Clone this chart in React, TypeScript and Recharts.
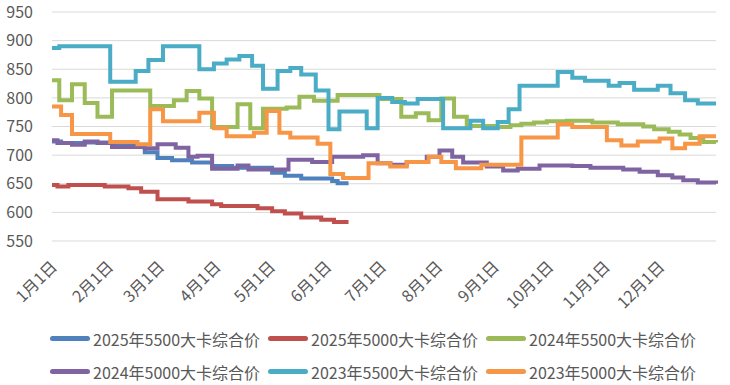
import { LineChart, Line, XAxis, YAxis, CartesianGrid, Legend } from 'recharts';

// day-of-year positions of the month ticks
const MONTH_DAYS = [0, 31, 59, 90, 120, 151, 181, 212, 243, 273, 304, 334];
const MONTH_LABELS = ['1月1日', '2月1日', '3月1日', '4月1日', '5月1日', '6月1日', '7月1日', '8月1日', '9月1日', '10月1日', '11月1日', '12月1日'];
const Y_TICKS = [550, 600, 650, 700, 750, 800, 850, 900, 950];

// price change points: day of year -> price (held until the next change)
const days2025_5500 = [0, 5, 18, 33, 51, 58, 66, 77, 88, 99, 121, 128, 137, 154, 157, 163];
const vals2025_5500 = [724, 721, 722, 717, 705, 695, 691, 687, 681, 678, 669, 664, 659, 655, 651, 651];

const days2025_5000 = [0, 3, 9, 29, 42, 49, 58, 75, 88, 93, 113, 121, 128, 137, 148, 155, 163];
const vals2025_5000 = [648, 645, 648, 645, 642, 636, 623, 619, 614, 611, 607, 602, 598, 591, 587, 583, 583];

const days2024_5500 = [0, 4, 11, 18, 25, 33, 54, 67, 74, 81, 88, 102, 109, 116, 129, 136, 144, 157, 180, 192, 200, 207, 214, 221, 228, 244, 252, 258, 265, 272, 283, 297, 311, 325, 331, 339, 345, 351, 358, 365];
const vals2024_5500 = [831, 796, 824, 791, 767, 813, 786, 796, 812, 799, 749, 789, 747, 781, 783, 802, 795, 805, 798, 767, 773, 761, 799, 767, 751, 749, 752, 755, 757, 759, 760, 757, 754, 750, 745, 741, 736, 730, 723, 722];

const days2024_5000 = [0, 3, 11, 18, 25, 33, 51, 58, 68, 75, 80, 88, 102, 108, 130, 143, 154, 171, 179, 186, 195, 206, 213, 220, 226, 239, 248, 256, 268, 286, 296, 314, 323, 333, 341, 347, 355, 365];
const vals2024_5000 = [726, 721, 718, 724, 721, 714, 712, 719, 713, 697, 699, 676, 682, 675, 692, 688, 697, 700, 686, 683, 688, 697, 708, 697, 687, 680, 673, 676, 682, 681, 678, 675, 671, 665, 661, 656, 652, 650];

const days2023_5500 = [0, 4, 32, 46, 53, 61, 81, 89, 96, 103, 110, 116, 124, 131, 137, 145, 152, 158, 173, 179, 187, 194, 201, 215, 230, 237, 245, 251, 257, 278, 286, 293, 306, 312, 320, 333, 340, 348, 355, 365];
const vals2023_5500 = [887, 890, 828, 847, 866, 890, 850, 860, 867, 873, 856, 816, 847, 852, 841, 813, 745, 776, 747, 800, 793, 790, 798, 747, 760, 747, 758, 780, 821, 845, 835, 830, 821, 826, 814, 821, 808, 796, 790, 790];

const days2023_5000 = [0, 5, 11, 32, 47, 54, 61, 81, 89, 96, 111, 118, 125, 131, 146, 153, 160, 174, 186, 195, 207, 214, 222, 236, 258, 278, 286, 305, 313, 322, 334, 341, 348, 356, 365];
const vals2023_5000 = [785, 770, 737, 723, 719, 780, 759, 774, 747, 733, 739, 777, 739, 731, 720, 667, 660, 686, 680, 688, 697, 688, 677, 683, 731, 754, 749, 726, 717, 724, 729, 712, 720, 733, 733];

const toPoints = (days: number[], vals: number[]) => days.map((d, i) => ({ d, v: vals[i] }));

const SERIES = [
  { name: '2025年5500大卡综合价', color: '#4f81bd', data: toPoints(days2025_5500, vals2025_5500) },
  { name: '2025年5000大卡综合价', color: '#c0504d', data: toPoints(days2025_5000, vals2025_5000) },
  { name: '2024年5500大卡综合价', color: '#9bbb59', data: toPoints(days2024_5500, vals2024_5500) },
  { name: '2024年5000大卡综合价', color: '#8064a2', data: toPoints(days2024_5000, vals2024_5000) },
  { name: '2023年5500大卡综合价', color: '#4bacc6', data: toPoints(days2023_5500, vals2023_5500) },
  { name: '2023年5000大卡综合价', color: '#f79646', data: toPoints(days2023_5000, vals2023_5000) },
];

const FONT = '"Noto Sans CJK SC", "Noto Sans", sans-serif';
const TEXT = '#595959';

function MonthTick(props: { x?: number; y?: number; index?: number }) {
  const { x = 0, y = 0, index = 0 } = props;
  const tx = x + 6;
  const ty = y + 27;
  return (
    <text x={tx} y={ty} transform={`rotate(-45, ${tx}, ${ty})`} textAnchor="end" fill={TEXT} fontSize={16} fontFamily={FONT}>
      {MONTH_LABELS[index]}
    </text>
  );
}

function LegendBlock() {
  return (
    <div style={{ width: 730, fontFamily: FONT, fontSize: 16, color: TEXT }}>
      {[0, 1].map(row => (
        <div key={row} style={{ display: 'flex', paddingLeft: 50, height: 33, alignItems: 'center' }}>
          {SERIES.slice(row * 3, row * 3 + 3).map(s => (
            <div key={s.name} style={{ display: 'flex', alignItems: 'center', width: 218 }}>
              <span style={{ display: 'inline-block', width: 40, height: 5, borderRadius: 3, background: s.color, marginRight: 3 }} />
              <span style={{ whiteSpace: 'nowrap' }}>{s.name}</span>
            </div>
          ))}
        </div>
      ))}
    </div>
  );
}

export default function App() {
  return (
    <div style={{ position: 'absolute', left: 0, top: 0, background: '#fff' }}>
      <LineChart width={730} height={385} margin={{ top: 12, right: 14, left: 0, bottom: 0 }}>
        <CartesianGrid vertical={false} stroke="#d9d9d9" strokeWidth={1} />
        <XAxis
          type="number"
          dataKey="d"
          domain={[0, 365]}
          ticks={MONTH_DAYS}
          interval={0}
          height={144}
          axisLine={false}
          tickLine={false}
          tickSize={0}
          tickMargin={0}
          tick={<MonthTick />}
        />
        <YAxis
          domain={[550, 950]}
          ticks={Y_TICKS}
          width={52}
          axisLine={false}
          tickLine={false}
          tickSize={0}
          tickMargin={19}
          tick={{ fill: TEXT, fontSize: 16, fontFamily: FONT }}
        />
        <Legend
          layout="vertical"
          align="center"
          verticalAlign="middle"
          content={<LegendBlock />}
          wrapperStyle={{ top: 322, left: 0, width: 730 }}
        />
        {SERIES.map(s => (
          <Line
            key={s.name}
            data={s.data}
            dataKey="v"
            name={s.name}
            type="stepAfter"
            stroke={s.color}
            strokeWidth={4}
            dot={false}
            isAnimationActive={false}
          />
        ))}
      </LineChart>
    </div>
  );
}
